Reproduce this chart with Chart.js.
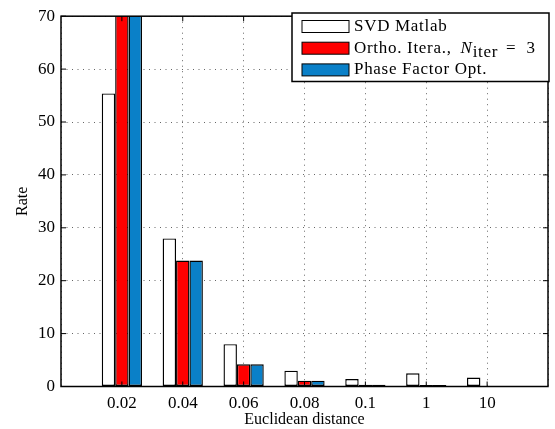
<!DOCTYPE html>
<html>
<head>
<meta charset="utf-8">
<script src="https://cdn.jsdelivr.net/npm/chart.js@4.4.0/dist/chart.umd.min.js"></script>
<style>
  html, body { margin: 0; padding: 0; background: #fff; }
</style>
</head>
<body>
<canvas id="c" width="555" height="429"></canvas>
<script>
// categories on the x axis (placed at positions 1..7)
const xLabels = ['0.02', '0.04', '0.06', '0.08', '0.1', '1', '10'];
const yTicks = [0, 10, 20, 30, 40, 50, 60, 70];
const seriesNames = ['SVD Matlab', 'Ortho. Itera., N_iter = 3', 'Phase Factor Opt.'];
const svdMatlab = [55.4, 28.0, 8.0, 3.0, 1.4, 2.5, 1.7];
const orthoItera = [80, 23.8, 4.2, 1.1, 0.35, 0.3, 0.05];
const phaseFactor = [80, 23.8, 4.2, 1.1, 0.35, 0.3, 0.05];

const SERIF = '"Liberation Serif", "Times New Roman", serif';
const RED = '#FF0000', BLUE = '#0A80C8';

const pts = arr => arr.map((v, i) => ({ x: i + 1, y: v }));

// legend label with a simple "X_sub" subscript, latex-ish spacing
function drawLabel(ctx, text, x, y) {
  const m = text.match(/^(.*?)\s*(\w)_(\w+)(.*)$/);
  ctx.textBaseline = 'middle';
  ctx.textAlign = 'left';
  ctx.fillStyle = '#000';
  ctx.font = '17px ' + SERIF;
  if (!m) {
    ctx.fillText(text, x, y);
    return;
  }
  const put = (t, f, dy, gap) => {
    ctx.font = f;
    ctx.fillText(t, x, y + dy);
    x += ctx.measureText(t).width + gap;
  };
  put(m[1], '17px ' + SERIF, 0, 9);
  put(m[2], 'italic 17px ' + SERIF, 0, 0);
  put(m[3], '17px ' + SERIF, 4, 8);
  m[4].trim().split(/\s+/).forEach(t => put(t, '17px ' + SERIF, 0, 10));
}

const boxLegend = {
  id: 'boxLegend',
  afterDraw(chart) {
    const ctx = chart.ctx;
    const L = 292, T = 13, R = 549, B = 81.5;
    ctx.save();
    ctx.letterSpacing = '0.7px';
    ctx.fillStyle = '#fff';
    ctx.fillRect(L, T, R - L, B - T);
    ctx.strokeStyle = '#000';
    ctx.lineWidth = 1.5;
    ctx.strokeRect(L, T, R - L, B - T);
    chart.data.datasets.forEach((ds, i) => {
      const cy = 26.5 + i * 21.7;
      ctx.fillStyle = ds.backgroundColor;
      ctx.fillRect(302, cy - 6, 47, 12);
      ctx.strokeStyle = '#000';
      ctx.lineWidth = 1;
      ctx.strokeRect(302, cy - 6, 47, 12);
      drawLabel(ctx, ds.label, 354, cy);
    });
    ctx.restore();
  }
};

// matlab style box with inward ticks
const axesBox = {
  id: 'axesBox',
  afterDatasetsDraw(chart) {
    const { ctx, chartArea: a, scales } = chart;
    ctx.save();
    ctx.strokeStyle = '#000';
    ctx.lineWidth = 1.5;
    ctx.strokeRect(a.left, a.top, a.right - a.left, a.bottom - a.top);
    ctx.lineWidth = 1;
    ctx.beginPath();
    yTicks.forEach(v => {
      const y = scales.y.getPixelForValue(v);
      ctx.moveTo(a.left, y); ctx.lineTo(a.left + 5, y);
      ctx.moveTo(a.right, y); ctx.lineTo(a.right - 5, y);
    });
    xLabels.forEach((l, i) => {
      const x = scales.x.getPixelForValue(i + 1);
      ctx.moveTo(x, a.bottom); ctx.lineTo(x, a.bottom - 5);
      ctx.moveTo(x, a.top); ctx.lineTo(x, a.top + 5);
    });
    ctx.stroke();
    ctx.restore();
  }
};

const barStyle = { borderColor: '#000', borderWidth: 1.4, borderSkipped: false };

new Chart(document.getElementById('c'), {
  type: 'bar',
  data: {
    datasets: [
      { label: seriesNames[0], data: pts(svdMatlab), backgroundColor: '#FFFFFF', ...barStyle },
      { label: seriesNames[1], data: pts(orthoItera), backgroundColor: RED, ...barStyle },
      { label: seriesNames[2], data: pts(phaseFactor), backgroundColor: BLUE, ...barStyle },
    ],
  },
  options: {
    responsive: false,
    animation: false,
    layout: { padding: { top: 12.5, right: 4, left: 0, bottom: 0 } },
    categoryPercentage: 0.661,
    barPercentage: 1,
    plugins: { legend: { display: false }, tooltip: { enabled: false } },
    scales: {
      x: {
        type: 'linear',
        min: 0,
        max: 8,
        offset: false,
        afterFit: s => { s.height = 42.5; },
        grid: { offset: false, color: 'rgba(0,0,0,0.6)', lineWidth: 1, drawTicks: false },
        border: { display: false, dash: [1, 4.5] },
        ticks: {
          stepSize: 1,
          autoSkip: false,
          maxRotation: 0,
          padding: 7,
          color: '#000',
          font: { family: SERIF, size: 17 },
          callback: v => xLabels[v - 1] || '',
        },
        title: {
          display: true,
          text: 'Euclidean distance',
          color: '#000',
          font: { family: SERIF, size: 16 },
          padding: { top: 0, bottom: 0 },
        },
      },
      y: {
        min: 0,
        max: 70,
        afterFit: s => { s.width = 61; },
        grid: { color: 'rgba(0,0,0,0.6)', lineWidth: 1, drawTicks: false },
        border: { display: false, dash: [1, 4.5] },
        afterBuildTicks: s => { s.ticks = yTicks.map(v => ({ value: v })); },
        ticks: {
          padding: 6,
          color: '#000',
          font: { family: SERIF, size: 17 },
        },
        title: {
          display: true,
          text: 'Rate',
          color: '#000',
          font: { family: SERIF, size: 16 },
          padding: { top: 13, bottom: 0 },
        },
      },
    },
  },
  plugins: [axesBox, boxLegend],
});
</script>
</body>
</html>
